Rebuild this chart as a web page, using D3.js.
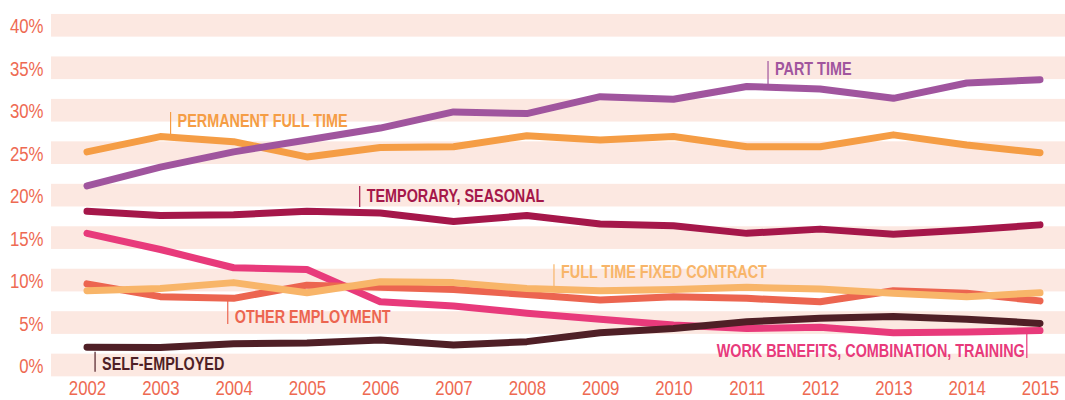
<!DOCTYPE html>
<html>
<head>
<meta charset="utf-8">
<script src="https://cdn.jsdelivr.net/npm/d3@7"></script>
<style>
  html, body { margin: 0; padding: 0; background: #ffffff; }
  svg { display: block; }
  .lbl { font-family: "Liberation Sans", Arial, sans-serif; font-weight: bold; font-size: 18px; }
  .axis text { font-family: "Liberation Sans", Arial, sans-serif; font-size: 21px; fill: #ee6a52; }
</style>
</head>
<body>
<svg id="chart" width="1065" height="400"></svg>
<script>
// ---- data ----
const years = [2002, 2003, 2004, 2005, 2006, 2007, 2008, 2009, 2010, 2011, 2012, 2013, 2014, 2015];
const yTicks = [0, 5, 10, 15, 20, 25, 30, 35, 40];

const partTime          = [21.1, 23.3, 25.1, 26.5, 27.9, 29.8, 29.6, 31.6, 31.3, 32.8, 32.5, 31.4, 33.2, 33.6];
const permanentFullTime = [25.1, 26.9, 26.3, 24.5, 25.6, 25.7, 27.0, 26.5, 26.9, 25.7, 25.7, 27.1, 25.9, 25.0];
const temporarySeasonal = [18.1, 17.6, 17.7, 18.1, 17.9, 16.9, 17.6, 16.6, 16.4, 15.5, 16.0, 15.4, 15.9, 16.5];
const fullTimeFixed     = [8.75, 9.0, 9.7, 8.5, 9.8, 9.7, 9.0, 8.75, 8.9, 9.15, 8.95, 8.45, 8.05, 8.5];
const otherEmployment   = [9.55, 8.05, 7.85, 9.4, 9.15, 8.9, 8.3, 7.65, 8.05, 7.85, 7.45, 8.75, 8.45, 7.55];
const workBenefits      = [15.5, 13.6, 11.45, 11.25, 7.45, 6.95, 6.1, 5.4, 4.7, 4.3, 4.45, 3.8, 3.9, 4.05];
const selfEmployed      = [2.1, 2.05, 2.5, 2.6, 2.95, 2.35, 2.75, 3.8, 4.3, 5.1, 5.5, 5.7, 5.4, 4.9];

const seriesNames = ["WORK BENEFITS, COMBINATION, TRAINING", "SELF-EMPLOYED", "OTHER EMPLOYMENT",
  "FULL TIME FIXED CONTRACT", "TEMPORARY, SEASONAL", "PERMANENT FULL TIME", "PART TIME"];
const seriesValues = [workBenefits, selfEmployed, otherEmployment, fullTimeFixed, temporarySeasonal, permanentFullTime, partTime];

// ---- styles / annotation placement (not data) ----
const colors = {
  "PART TIME": "#a0559e",
  "PERMANENT FULL TIME": "#f59d45",
  "TEMPORARY, SEASONAL": "#a5174a",
  "FULL TIME FIXED CONTRACT": "#f8b569",
  "OTHER EMPLOYMENT": "#ec6550",
  "WORK BENEFITS, COMBINATION, TRAINING": "#e83a7b",
  "SELF-EMPLOYED": "#4f1f26"
};
const condense = 0.8; // horizontal squeeze to mimic a condensed typeface
const annotations = [
  { name: "PERMANENT FULL TIME", at: 2003.14, top: 29.79, bottom: 27.20, base: 27.99, anchor: "start" },
  { name: "PART TIME", at: 2011.29, top: 35.80, bottom: 32.97, base: 34.15, anchor: "start" },
  { name: "TEMPORARY, SEASONAL", at: 2005.72, top: 21.08, bottom: 18.60, base: 19.23, anchor: "start" },
  { name: "FULL TIME FIXED CONTRACT", at: 2008.37, top: 11.86, bottom: 9.30, base: 10.28, anchor: "start" },
  { name: "OTHER EMPLOYMENT", at: 2003.92, top: 7.77, bottom: 4.83, base: 4.91, anchor: "start" },
  { name: "SELF-EMPLOYED", at: 2002.11, top: 1.57, bottom: -0.79, base: -0.59, anchor: "start" },
  { name: "WORK BENEFITS, COMBINATION, TRAINING", at: 2014.82, top: 3.77, bottom: 0.82, base: 0.94, anchor: "end" }
];

const svg = d3.select("#chart");
const x = d3.scaleLinear().domain([2002, 2015]).range([87, 1040]);
const y = d3.scaleLinear().domain([0, 40]).range([365, 25.3]);

// bands
svg.append("g").selectAll("rect").data(yTicks).join("rect")
  .attr("x", 51).attr("width", 1065 - 51)
  .attr("y", d => y(d + 1.335))
  .attr("height", d => y(d - 1.335) - y(d + 1.335))
  .attr("fill", "#fce8e1");

// y axis labels
const yAxis = svg.append("g").attr("class", "axis")
  .attr("transform", "translate(43.5,0)")
  .call(d3.axisLeft(y).tickValues(yTicks).tickSize(0).tickPadding(0).tickFormat(d => d + "%"));
yAxis.select(".domain").remove();
yAxis.selectAll("text").attr("x", 0).attr("dy", "0.36em").attr("transform", `scale(${condense},1)`);

// x axis labels (baseline just above the bottom edge)
const xAxis = svg.append("g").attr("class", "axis")
  .attr("transform", "translate(0,395)")
  .call(d3.axisBottom(x).tickValues(years).tickSize(0).tickPadding(0).tickFormat(d3.format("d")));
xAxis.select(".domain").remove();
xAxis.selectAll("text").attr("y", 0).attr("dy", 0).attr("transform", `scale(${condense},1)`);

// lines
const line = d3.line().x((d, i) => x(years[i])).y(d => y(d));
svg.append("g").selectAll("path").data(seriesNames).join("path")
  .attr("d", (n, i) => line(seriesValues[i]))
  .attr("fill", "none")
  .attr("stroke", n => colors[n])
  .attr("stroke-width", 7)
  .attr("stroke-linecap", "round")
  .attr("stroke-linejoin", "round");

// annotations
const ann = svg.append("g").selectAll("g").data(annotations).join("g");
ann.append("line")
  .attr("x1", d => x(d.at)).attr("x2", d => x(d.at))
  .attr("y1", d => y(d.top)).attr("y2", d => y(d.bottom))
  .attr("stroke", d => colors[d.name]).attr("stroke-width", 1.2);
ann.append("g")
  .attr("transform", d => `translate(${d.anchor === "end" ? x(d.at) - 2 : x(d.at) + 7},${y(d.base)}) scale(${condense},1)`)
  .append("text").attr("class", "lbl")
  .attr("text-anchor", d => d.anchor)
  .attr("fill", d => colors[d.name])
  .text(d => d.name);
</script>
</body>
</html>
